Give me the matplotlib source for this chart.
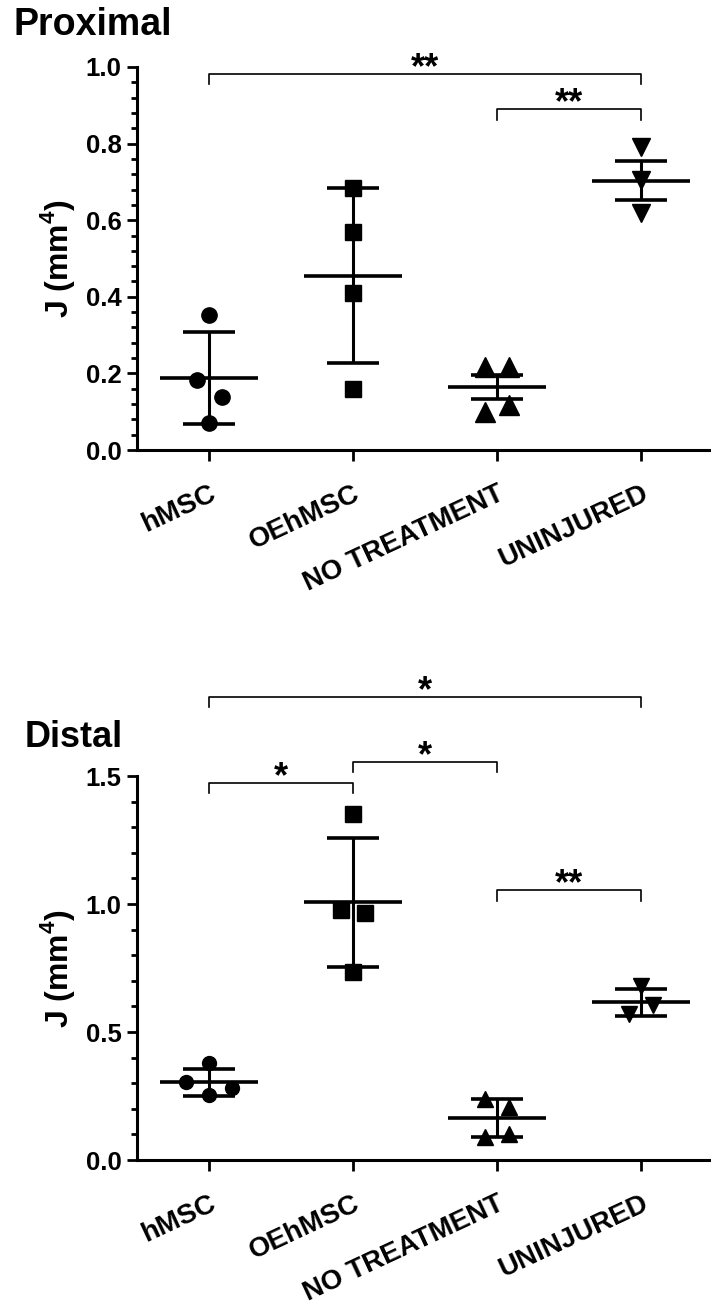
import numpy as np
import matplotlib
matplotlib.use('Agg')
import matplotlib.pyplot as plt
from matplotlib.ticker import MultipleLocator

plt.rcParams['font.family'] = ['Liberation Sans', 'DejaVu Sans']
plt.rcParams['font.weight'] = 'bold'
plt.rcParams['mathtext.fontset'] = 'custom'
plt.rcParams['mathtext.rm'] = 'Liberation Sans:bold'
plt.rcParams['mathtext.bf'] = 'Liberation Sans:bold'

groups = ['hMSC', 'OEhMSC', 'NO TREATMENT', 'UNINJURED']

# Proximal - individual values per group
prox_hmsc = [0.353, 0.183, 0.139, 0.071]
prox_oehmsc = [0.685, 0.570, 0.409, 0.158]
prox_notreat = [0.216, 0.216, 0.098, 0.118]
prox_uninj = [0.792, 0.705, 0.618]
prox_mean = [0.187, 0.455, 0.164, 0.703]
prox_upper = [0.307, 0.685, 0.196, 0.755]
prox_lower = [0.067, 0.228, 0.133, 0.653]

# Distal - individual values per group
dist_hmsc = [0.378, 0.303, 0.280, 0.254]
dist_oehmsc = [1.352, 0.977, 0.964, 0.736]
dist_notreat = [0.237, 0.208, 0.091, 0.102]
dist_uninj = [0.680, 0.605, 0.569]
dist_mean = [0.303, 1.006, 0.165, 0.616]
dist_upper = [0.355, 1.259, 0.238, 0.667]
dist_lower = [0.251, 0.753, 0.091, 0.564]

# significance brackets: (group a, group b, height, label)
prox_sig = [(0, 3, 0.983, '**'), (2, 3, 0.890, '**')]
dist_sig = [(0, 3, 1.81, '*'), (0, 1, 1.474, '*'), (1, 2, 1.556, '*'), (2, 3, 1.055, '**')]

# horizontal scatter of the points (layout only)
prox_jit = [[0, -0.08, 0.09, 0], [0, 0, 0, 0], [-0.08, 0.085, -0.08, 0.085], [0, 0, 0]]
dist_jit = [[0, -0.157, 0.162, 0], [0, -0.08, 0.08, 0], [-0.08, 0.08, -0.08, 0.08], [0, 0.08, -0.085]]

markers = ['o', 's', '^', 'v']

fig = plt.figure(figsize=(7.11, 13.13), dpi=100)
ax1 = fig.add_axes([137/711, 1-450/1313, 576/711, 383/1313])
ax2 = fig.add_axes([137/711, 1-1160/1313, 576/711, 384/1313])


def panel(ax, vals, jit, mean, up, lo, sig, msizes, drop, ymax, major, minor):
    for i, v in enumerate(vals):
        xs = i + np.array(jit[i])
        ax.plot(xs, v, ls='none', marker=markers[i], color='k', ms=msizes[i], clip_on=False, zorder=3)
    x = np.arange(len(groups))
    ax.hlines(mean, x-0.34, x+0.34, color='k', lw=2.6, zorder=2)
    ax.hlines(up, x-0.18, x+0.18, color='k', lw=2.6, zorder=2)
    ax.hlines(lo, x-0.18, x+0.18, color='k', lw=2.6, zorder=2)
    ax.vlines(x, lo, up, color='k', lw=2.2, zorder=2)
    for a, b, h, s in sig:
        ax.plot([a, a, b, b], [h-drop, h, h, h-drop], color='k', lw=1.2, clip_on=False)
        ax.annotate(s, (0.5*(a+b), h), xytext=(0, -3), textcoords='offset points',
                    ha='center', va='baseline', fontsize=26, fontweight='bold', annotation_clip=False)
    ax.set_xlim(-0.5, 3.5)
    ax.set_ylim(0, ymax)
    ax.yaxis.set_major_locator(MultipleLocator(major))
    ax.yaxis.set_minor_locator(MultipleLocator(minor))
    ax.yaxis.set_major_formatter(lambda v, p: '%.1f' % v)
    ax.set_xticks(x)
    ax.set_xticklabels(groups, rotation=25, ha='right', rotation_mode='anchor', fontsize=20)
    for sp in ['top', 'right']:
        ax.spines[sp].set_visible(False)
    for sp in ['left', 'bottom']:
        ax.spines[sp].set_linewidth(2.2)
    ax.tick_params(axis='y', which='major', length=7, width=2, labelsize=18.5, pad=4)
    ax.tick_params(axis='y', which='minor', length=4.5, width=2)
    ax.tick_params(axis='x', length=8, width=2, pad=14)
    ax.set_ylabel('J (mm$^\\mathbf{4}$)', fontsize=23, fontweight='bold')
    ax.yaxis.set_label_coords(-0.104, 0.5)


panel(ax1, [prox_hmsc, prox_oehmsc, prox_notreat, prox_uninj], prox_jit,
      prox_mean, prox_upper, prox_lower, prox_sig, [11, 11, 15, 13], 0.028, 1.0, 0.2, 0.04)
panel(ax2, [dist_hmsc, dist_oehmsc, dist_notreat, dist_uninj], dist_jit,
      dist_mean, dist_upper, dist_lower, dist_sig, [10, 11, 11, 11], 0.042, 1.5, 0.5, 0.1)

fig.text(13/711, 1-35/1313, 'Proximal', fontsize=27, fontweight='bold', va='baseline')
fig.text(25/711, 1-747/1313, 'Distal', fontsize=26, fontweight='bold', va='baseline')

fig.savefig('out.png', dpi=100)
